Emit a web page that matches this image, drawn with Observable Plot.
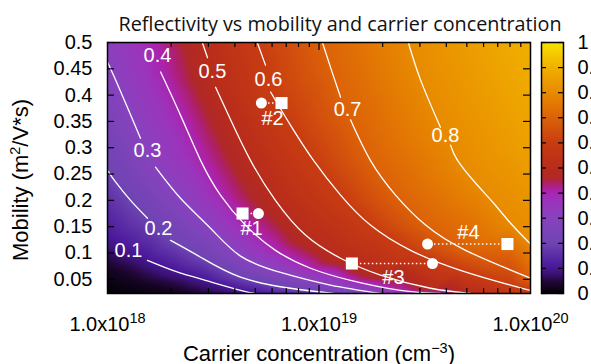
<!DOCTYPE html>
<html><head><meta charset="utf-8">
<script src="https://cdn.jsdelivr.net/npm/d3@7"></script>
<script src="https://cdn.jsdelivr.net/npm/@observablehq/plot@0.6"></script>
<style>
html,body{margin:0;padding:0;background:#fff;}
#wrap{position:relative;width:591px;height:364px;overflow:hidden;}
#wrap svg{position:absolute;left:0;top:0;}
</style></head><body><div id="wrap"></div>
<script>
// ---------------- data ----------------
const titleText = "Reflectivity vs mobility and carrier concentration";
const xLabel = "Carrier concentration (cm^{\u22123})";
const yLabel = "Mobility (m^{2}/V*s)";
const xDomain = [1e18, 1e20];
const yDomain = [0.023, 0.5];
const xMajorTicks = [1e18, 1e19, 1e20];
const xMinorTicks = [2e18,3e18,4e18,5e18,6e18,7e18,8e18,9e18,2e19,3e19,4e19,5e19,6e19,7e19,8e19,9e19];
const yTicks = [0.05,0.1,0.15,0.2,0.25,0.3,0.35,0.4,0.45,0.5];
const colorbarTicks = [0,0.1,0.2,0.3,0.4,0.5,0.6,0.7,0.8,0.9,1];

// palette stops (value -> colour)
const paletteStops  = [0, 0.05, 0.08, 0.11, 0.2, 0.3, 0.37, 0.41, 0.44, 0.46, 0.5, 0.6, 0.7, 0.8, 0.9, 1];
const paletteColors = ["#000000","#24083c","#3c1278","#4c1a9c","#6e44b2","#8842be","#9c34bc","#ac22ac","#ae2066","#b02828","#b82c1c","#c83c12","#dc6208","#e88a00","#f0b000","#f8e000"];

// contour levels and crossing points: [log10 n, mobility, part(0 before label / 1 after label)]
const levels = [0.1,0.2,0.3,0.4,0.5,0.6,0.7,0.8];
const contour01 = [[18.000,0.128,0],[18.189,0.086,1],[18.322,0.065,1],[18.463,0.048,1],[18.629,0.029,1],[18.700,0.023,1]];
const contour02 = [[18.000,0.257,0],[18.038,0.235,0],[18.109,0.200,0],[18.189,0.166,0],[18.298,0.124,1],[18.440,0.092,1],[18.629,0.054,1],[18.865,0.033,1],[19.069,0.023,1]];
const contour03 = [[18.000,0.463,0],[18.038,0.429,0],[18.099,0.372,0],[18.156,0.318,0],[18.227,0.263,1],[18.345,0.204,1],[18.487,0.147,1],[18.629,0.094,1],[18.818,0.063,1],[19.054,0.039,1],[19.291,0.023,1]];
const contour04 = [[18.203,0.500,0],[18.251,0.444,1],[18.345,0.362,1],[18.440,0.276,1],[18.534,0.210,1],[18.652,0.153,1],[18.794,0.105,1],[18.960,0.071,1],[19.149,0.048,1],[19.385,0.029,1],[19.574,0.023,1]];
const contour05 = [[18.449,0.499,0],[18.473,0.471,0],[18.511,0.415,1],[18.582,0.353,1],[18.676,0.276,1],[18.794,0.200,1],[18.936,0.134,1],[19.102,0.090,1],[19.291,0.058,1],[19.527,0.033,1],[19.716,0.023,1]];
const contour06 = [[18.709,0.499,0],[18.747,0.457,0],[18.771,0.406,1],[18.865,0.343,1],[18.974,0.276,1],[19.102,0.210,1],[19.243,0.153,1],[19.433,0.105,1],[19.669,0.067,1],[19.905,0.039,1],[20.000,0.029,1]];
const contour07 = [[19.017,0.499,0],[19.060,0.446,0],[19.102,0.396,0],[19.149,0.353,1],[19.243,0.276,1],[19.362,0.210,1],[19.504,0.153,1],[19.693,0.105,1],[20.000,0.052,1]];
const contour08 = [[19.423,0.499,0],[19.480,0.429,0],[19.574,0.339,0],[19.622,0.305,1],[19.655,0.276,1],[19.740,0.233,1],[19.825,0.195,1],[19.905,0.157,1],[20.000,0.117,1]];

// contour labels
const labelText = ["0.1","0.2","0.3","0.4","0.5","0.6","0.7","0.8"];
const labelLogN = [18.099,18.241,18.189,18.236,18.496,18.761,19.135,19.598];
const labelMu   = [0.105,0.147,0.2955,0.476,0.444,0.429,0.372,0.324];

// extra values along the frame edges (log10 n, mobility, reflectivity)
const edgeLogN = [18.000,18.000,18.000,18.350,20.000,20.000,18.100,20.000,18.150];
const edgeMu   = [0.023,0.070,0.500,0.023,0.500,0.023,0.500,0.300,0.045];
const edgeVal  = [0.00,0.03,0.32,0.025,0.90,0.58,0.35,0.86,0.03];

// samples
const sampleNames = ["#1","#2","#3","#4"];
const squareN = [4.35e18, 6.65e18, 1.43e19, 7.78e19];
const circleN = [5.17e18, 5.34e18, 3.44e19, 3.26e19];
const sampleMu = [0.175, 0.385, 0.080, 0.117];
const sampleLabelN = [4.80e18, 6.03e18, 2.25e19, 5.09e19];
const sampleLabelMu = [0.147, 0.356, 0.054, 0.138];

// ---------------- build tables ----------------
const contours = [contour01,contour02,contour03,contour04,contour05,contour06,contour07,contour08];
const linePts = [];
const rasterPts = [];
contours.forEach((c, i) => {
  c.forEach(([ln, mu, part]) => {
    linePts.push({n: 10 ** ln, mu, key: levels[i] + "-" + part});
    rasterPts.push({n: 10 ** ln, mu, v: levels[i]});
  });
  rasterPts.push({n: 10 ** labelLogN[i], mu: labelMu[i], v: levels[i]});
});
edgeLogN.forEach((ln, i) => rasterPts.push({n: 10 ** ln, mu: edgeMu[i], v: edgeVal[i]}));
const contourLabels = labelText.map((t, i) => ({t, n: 10 ** labelLogN[i], mu: labelMu[i]}));
const samples = sampleNames.map((name, i) => ({name, sq: squareN[i], ci: circleN[i], mu: sampleMu[i], lx: sampleLabelN[i], ly: sampleLabelMu[i]}));

const colorScale = {type: "linear", domain: paletteStops, range: paletteColors, interpolate: "rgb", clamp: true};
const font = "'Liberation Sans', Arial, Helvetica, sans-serif";

const main = Plot.plot({
  width: 591, height: 364,
  marginLeft: 107, marginRight: 61, marginTop: 42, marginBottom: 71,
  style: {fontFamily: font, fontSize: "20px", background: "transparent", color: "black", overflow: "visible"},
  x: {type: "log", domain: xDomain},
  y: {domain: yDomain},
  color: colorScale,
  marks: [
    Plot.raster(rasterPts, {x: "n", y: "mu", fill: "v", interpolate: "barycentric"}),
    Plot.line(linePts, {x: "n", y: "mu", z: "key", curve: "natural", stroke: "white", strokeWidth: 1.3}),
    Plot.text(contourLabels, {x: "n", y: "mu", text: "t", fill: "white", fontSize: 20}),
    Plot.link(samples, {x1: "sq", x2: "ci", y1: "mu", y2: "mu", stroke: "white", strokeWidth: 1.5, strokeDasharray: "1.5 2.5"}),
    Plot.dot(samples, {x: "sq", y: "mu", symbol: "square", r: 6.8, fill: "white", stroke: null}),
    Plot.dot(samples, {x: "ci", y: "mu", r: 5.5, fill: "white", stroke: null}),
    Plot.text(samples, {x: "lx", y: "ly", text: "name", fill: "white", fontSize: 20}),
    Plot.tickY(yTicks, {y: d => d, insetRight: 416, stroke: "black", strokeWidth: 1.2}),
    Plot.tickY(yTicks, {y: d => d, insetLeft: 416, stroke: "black", strokeWidth: 1.2}),
    Plot.tickX(xMinorTicks, {x: d => d, insetTop: 246, stroke: "black", strokeWidth: 1.2}),
    Plot.tickX(xMinorTicks, {x: d => d, insetBottom: 246, stroke: "black", strokeWidth: 1.2}),
    Plot.tickX([1e19], {x: d => d, insetTop: 243, stroke: "black", strokeWidth: 1.2}),
    Plot.tickX([1e19], {x: d => d, insetBottom: 243, stroke: "black", strokeWidth: 1.2}),
    Plot.frame({stroke: "black", strokeWidth: 1.5}),
    Plot.axisX(xMajorTicks, {tickSize: 0, tickPadding: 23, tickFormat: d => `1.0x10^{${Math.round(Math.log10(d))}}`,
      label: xLabel, labelAnchor: "center", labelOffset: 67, labelArrow: "none", fontSize: 20}),
    Plot.axisY(yTicks, {tickSize: 0, tickPadding: 15, tickFormat: d => String(d),
      label: yLabel, labelAnchor: "center", labelOffset: 95, labelArrow: "none", fontSize: 20}),
    Plot.text([titleText], {frameAnchor: "top", dy: -26, dx: 21, fontFamily: "'Open Sans', sans-serif", fontSize: 19.8, fill: "#111"})
  ]
});

const colorbar = Plot.plot({
  width: 591, height: 364,
  marginLeft: 541, marginRight: 28, marginTop: 42, marginBottom: 71,
  style: {fontFamily: font, fontSize: "20px", background: "transparent", color: "black", overflow: "hidden"},
  x: {domain: [0, 1], axis: null},
  y: {domain: [0, 1], axis: null},
  color: colorScale,
  marks: [
    Plot.raster({x1: 0, x2: 1, y1: 0, y2: 1, fill: (x, y) => y}),
    Plot.tickY(colorbarTicks, {y: d => d, insetRight: 17, stroke: "black", strokeWidth: 1.2}),
    Plot.tickY(colorbarTicks, {y: d => d, insetLeft: 17, stroke: "black", strokeWidth: 1.2}),
    Plot.frame({stroke: "black", strokeWidth: 1.5}),
    Plot.axisY(colorbarTicks, {anchor: "right", tickSize: 0, tickPadding: 14, tickFormat: d => String(d), label: null, fontSize: 20})
  ]
});

// superscripts: "^{...}" -> raised tspan
function supify(el) {
  const s = el.textContent;
  if (!s.includes("^{")) return;
  const parts = s.split(/\^\{([^}]*)\}/);
  el.textContent = "";
  const ns = "http://www.w3.org/2000/svg";
  let raised = false;
  parts.forEach((p, i) => {
    if (p === "") return;
    const t = document.createElementNS(ns, "tspan");
    t.textContent = p;
    if (i % 2 === 1) { t.setAttribute("dy", "-8"); t.setAttribute("font-size", "14.5"); raised = true; }
    else if (raised) { t.setAttribute("dy", "8"); raised = false; }
    el.appendChild(t);
  });
}
d3.select(main).selectAll("text").each(function () { supify(this); });
d3.select(main).selectAll('g[aria-label="x-axis label"] text').attr("font-size", 22);
d3.select(main).selectAll('g[aria-label="y-axis label"] text').attr("font-size", 22).attr("dx", -12);

document.getElementById("wrap").append(main, colorbar);
</script></body></html>
